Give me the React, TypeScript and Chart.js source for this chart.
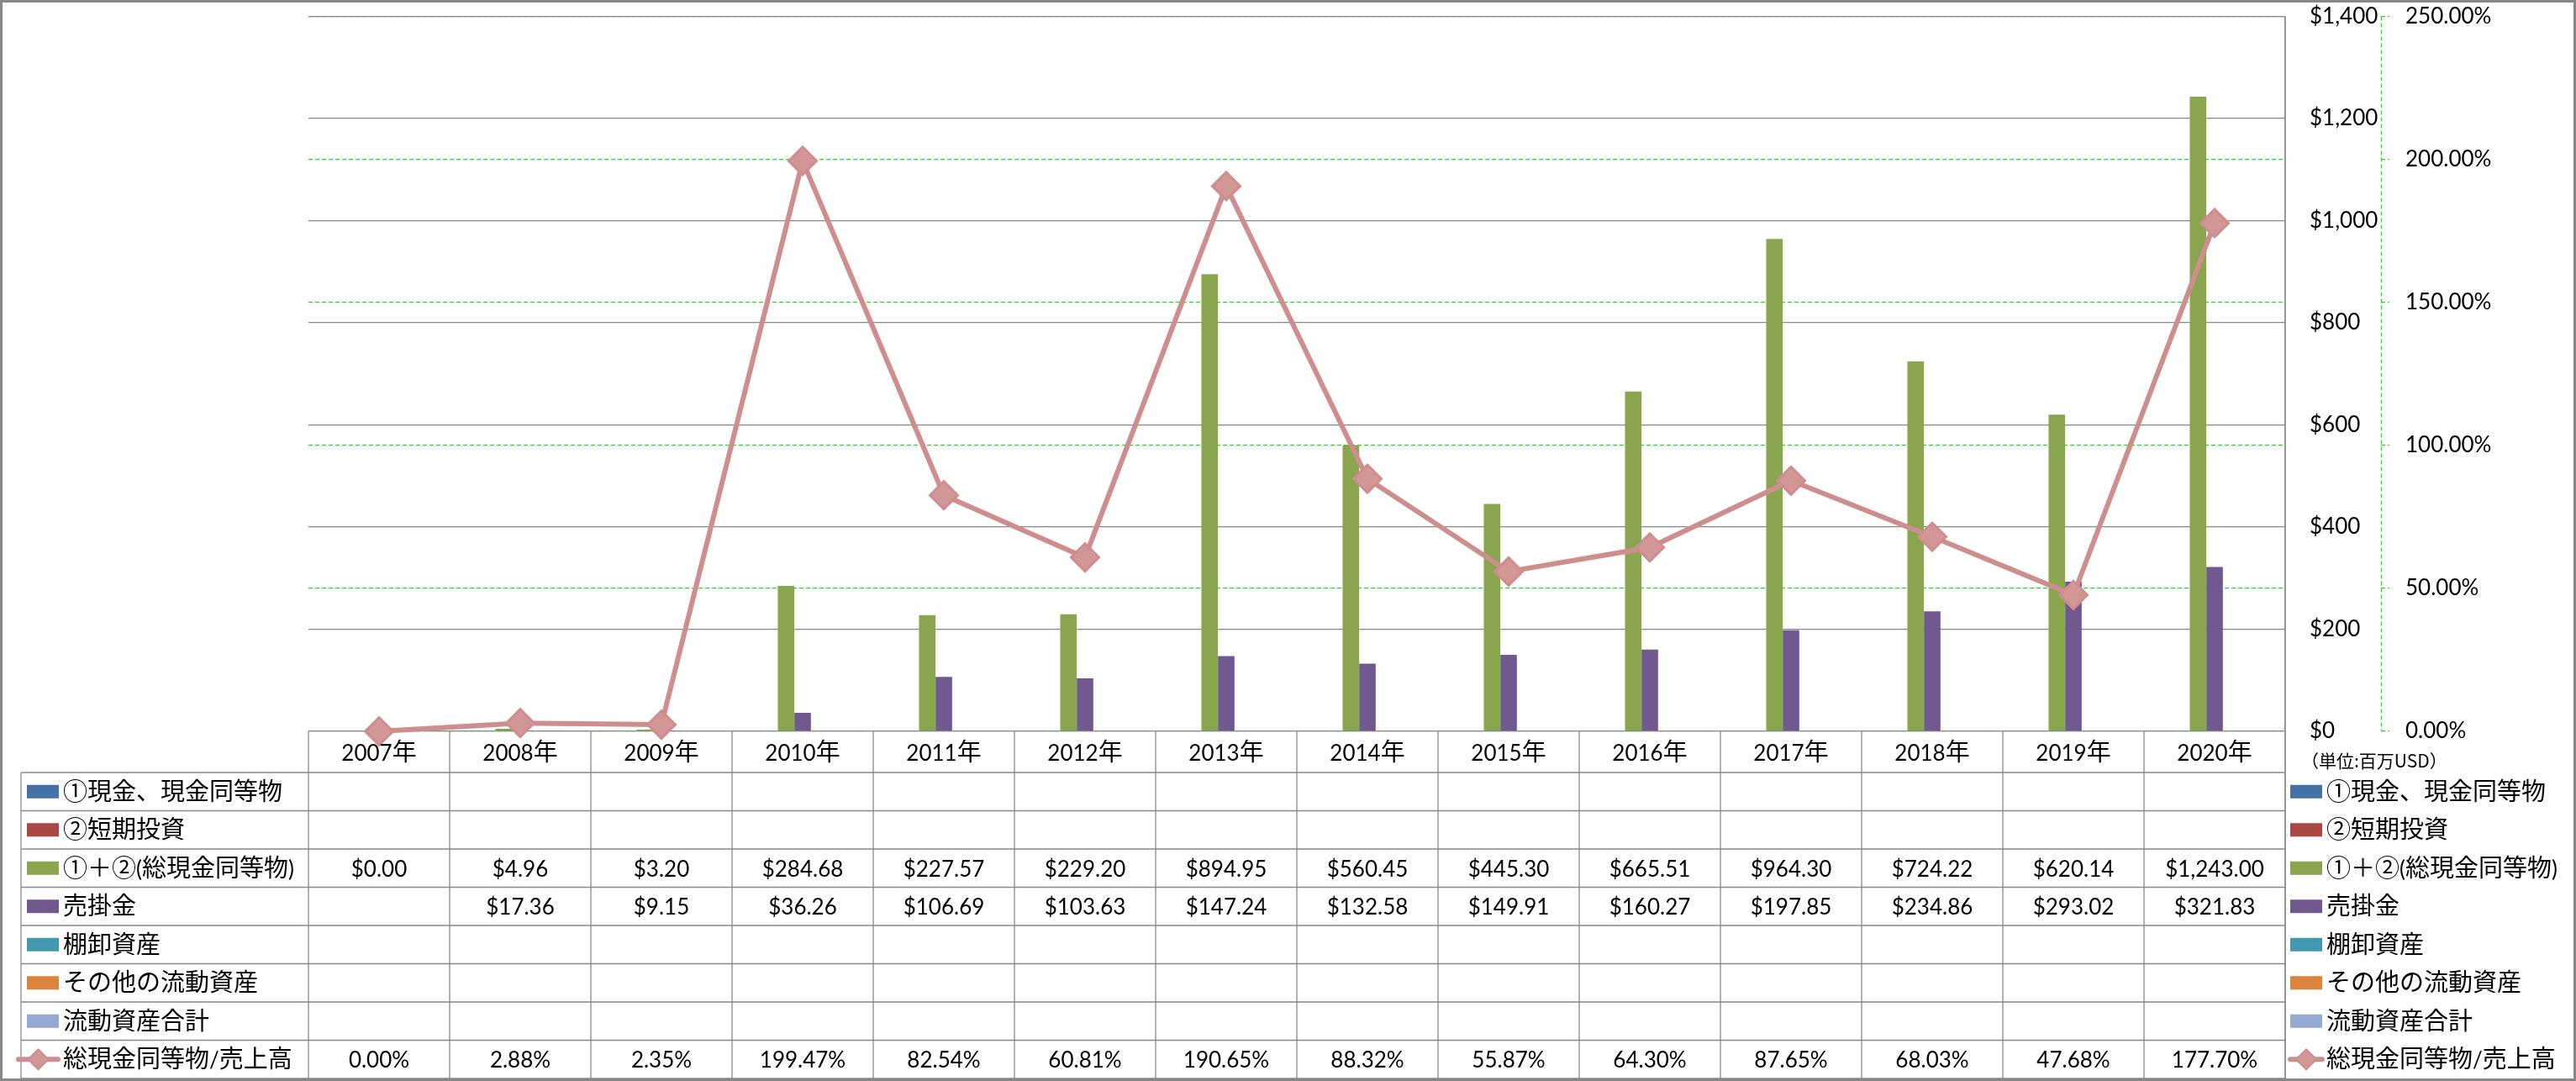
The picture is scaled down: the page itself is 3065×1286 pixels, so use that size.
import React, { useEffect, useRef } from "react";
import { Chart, registerables } from "chart.js";

Chart.register(...registerables);

// ---------------- data ----------------
const years = ["2007年", "2008年", "2009年", "2010年", "2011年", "2012年", "2013年", "2014年", "2015年", "2016年", "2017年", "2018年", "2019年", "2020年"];

const seriesLabels = [
  "①現金、現金同等物",
  "②短期投資",
  "①＋②(総現金同等物)",
  "売掛金",
  "棚卸資産",
  "その他の流動資産",
  "流動資産合計",
  "総現金同等物/売上高",
];

const cashEquivalents: (number | null)[] = [null, null, null, null, null, null, null, null, null, null, null, null, null, null];
const shortTermInvestments: (number | null)[] = [null, null, null, null, null, null, null, null, null, null, null, null, null, null];
const totalCash: (number | null)[] = [0.0, 4.96, 3.2, 284.68, 227.57, 229.2, 894.95, 560.45, 445.3, 665.51, 964.3, 724.22, 620.14, 1243.0];
const receivables: (number | null)[] = [null, 17.36, 9.15, 36.26, 106.69, 103.63, 147.24, 132.58, 149.91, 160.27, 197.85, 234.86, 293.02, 321.83];
const inventory: (number | null)[] = [null, null, null, null, null, null, null, null, null, null, null, null, null, null];
const otherCurrentAssets: (number | null)[] = [null, null, null, null, null, null, null, null, null, null, null, null, null, null];
const totalCurrentAssets: (number | null)[] = [null, null, null, null, null, null, null, null, null, null, null, null, null, null];
const cashToSales: (number | null)[] = [0.0, 2.88, 2.35, 199.47, 82.54, 60.81, 190.65, 88.32, 55.87, 64.3, 87.65, 68.03, 47.68, 177.7];

const leftAxisMax = 1400;
const leftAxisStep = 200;
const rightAxisMax = 250;
const rightAxisStep = 50;
const unitLabel = "（単位:百万USD）";

// ---------------- styles ----------------
const barColors = ["#4572A7", "#AA4643", "#89A54E", "#71588F", "#4198AF", "#DB843D", "#93A9CF"];
const LINE_COLOR = "#CF8E8E";
const MARKER_FILL = "#D39696";
const GRID = "#878787";
const GREEN = "#1EE01E";
const LAT = "Lato, 'DejaVu Sans', sans-serif";
const JP = "'Noto Sans CJK JP', sans-serif";
const LAT_SIZE = 26;
const JP_SIZE = 29;

const W = 3065;
const H = 1286;
const HEADER_H = 49;
const ROW_H = 45.5;

function isLatin(ch: string) {
  return ch.charCodeAt(0) < 0x2000;
}

function drawMixed(ctx: CanvasRenderingContext2D, text: string, x: number, yCenter: number, align: "left" | "center", latSize = LAT_SIZE, jpSize = JP_SIZE) {
  const runs: { t: string; latin: boolean }[] = [];
  for (const ch of text) {
    const l = isLatin(ch);
    if (runs.length && runs[runs.length - 1].latin === l) runs[runs.length - 1].t += ch;
    else runs.push({ t: ch, latin: l });
  }
  const widths = runs.map((r) => {
    ctx.font = r.latin ? `${latSize}px ${LAT}` : `${jpSize}px ${JP}`;
    return ctx.measureText(r.t).width;
  });
  const total = widths.reduce((a, b) => a + b, 0);
  let cx = align === "center" ? x - total / 2 : x;
  ctx.textAlign = "left";
  ctx.textBaseline = "alphabetic";
  ctx.fillStyle = "#000";
  runs.forEach((r, i) => {
    ctx.font = r.latin ? `${latSize}px ${LAT}` : `${jpSize}px ${JP}`;
    ctx.fillText(r.t, cx, yCenter + 10);
    cx += widths[i];
  });
}

function line(ctx: CanvasRenderingContext2D, x1: number, y1: number, x2: number, y2: number) {
  ctx.beginPath();
  ctx.moveTo(x1, y1);
  ctx.lineTo(x2, y2);
  ctx.stroke();
}

function drawLineKey(ctx: CanvasRenderingContext2D, x1: number, x2: number, cy: number) {
  ctx.save();
  ctx.strokeStyle = LINE_COLOR;
  ctx.lineWidth = 6;
  ctx.lineCap = "round";
  line(ctx, x1 + 3, cy, x2 - 3, cy);
  const cx = (x1 + x2) / 2;
  const r = 12;
  ctx.beginPath();
  ctx.moveTo(cx - r, cy);
  ctx.lineTo(cx, cy - r);
  ctx.lineTo(cx + r, cy);
  ctx.lineTo(cx, cy + r);
  ctx.closePath();
  ctx.fillStyle = MARKER_FILL;
  ctx.fill();
  ctx.lineWidth = 2;
  ctx.lineJoin = "round";
  ctx.stroke();
  ctx.restore();
}

const money = (v: number | null) =>
  v == null ? "" : "$" + v.toLocaleString("en-US", { minimumFractionDigits: 2, maximumFractionDigits: 2 });
const pct = (v: number | null) => (v == null ? "" : v.toFixed(2) + "%");

const tablePlugin = {
  id: "dataTable",
  afterDraw(chart: any) {
    const ctx: CanvasRenderingContext2D = chart.ctx;
    const area = chart.chartArea;
    const xs = chart.scales.x;
    const n = years.length;
    const colW = (area.right - area.left) / n;
    const top = area.bottom;
    const rowsTop = top + HEADER_H;
    const bottom = rowsTop + ROW_H * 8;
    const tableLeft = 25;

    ctx.save();
    // green dashed secondary axis line
    const y1 = chart.scales.y1;
    ctx.strokeStyle = GREEN;
    ctx.lineWidth = 1.3;
    ctx.setLineDash([5, 3]);
    line(ctx, Math.round(y1.left) + 0.5, area.top, Math.round(y1.left) + 0.5, area.bottom);
    ctx.setLineDash([]);

    // table grid
    ctx.strokeStyle = GRID;
    ctx.lineWidth = 1.3;
    for (let i = 0; i <= n; i++) {
      const xx = area.left + i * colW;
      line(ctx, xx, top, xx, bottom);
    }
    line(ctx, area.right, area.top, area.right, bottom);
    for (let r = 0; r <= 8; r++) {
      const yy = rowsTop + r * ROW_H;
      line(ctx, tableLeft, yy, area.right, yy);
    }
    line(ctx, tableLeft, rowsTop, tableLeft, bottom);

    // header
    years.forEach((y, i) => drawMixed(ctx, y, xs.getPixelForValue(i), top + HEADER_H / 2, "center"));

    // rows
    const rowData = [cashEquivalents, shortTermInvestments, totalCash, receivables, inventory, otherCurrentAssets, totalCurrentAssets, cashToSales];
    rowData.forEach((arr, r) => {
      const cy = rowsTop + r * ROW_H + ROW_H / 2;
      if (r < 7) {
        ctx.fillStyle = barColors[r];
        ctx.fillRect(32, cy - 8, 38, 16);
      } else {
        drawLineKey(ctx, 19, 72, cy);
      }
      drawMixed(ctx, seriesLabels[r], 75, cy, "left");
      arr.forEach((v, i) => {
        const s = r === 7 ? pct(v) : money(v);
        if (s) drawMixed(ctx, s, xs.getPixelForValue(i), cy, "center");
      });

      // right-side legend
      if (r < 7) {
        ctx.fillStyle = barColors[r];
        ctx.fillRect(2725, cy - 8, 38, 16);
      } else {
        drawLineKey(ctx, 2722, 2766, cy);
      }
      drawMixed(ctx, seriesLabels[r], 2768, cy, "left");
    });

    // unit label
    ctx.font = `21px ${JP}`;
    ctx.fillStyle = "#000";
    ctx.textAlign = "left";
    ctx.textBaseline = "middle";
    ctx.fillText(unitLabel, 2738, 905);

    // outer border
    ctx.strokeStyle = GRID;
    ctx.lineWidth = 3;
    ctx.strokeRect(1.5, 1.5, W - 3, H - 3);
    ctx.restore();
  },
};

export default function App() {
  const ref = useRef<HTMLCanvasElement>(null);
  useEffect(() => {
    if (!ref.current) return;
    const barSeries = [cashEquivalents, shortTermInvestments, totalCash, receivables, inventory, otherCurrentAssets, totalCurrentAssets];
    const datasets: any[] = barSeries.map((d, i) => ({
      type: "bar",
      label: seriesLabels[i],
      data: d,
      backgroundColor: barColors[i],
      borderWidth: 0,
      yAxisID: "y",
      order: 1,
      categoryPercentage: 0.82,
      barPercentage: 1.0,
    }));
    datasets.push({
      type: "line",
      label: seriesLabels[7],
      data: cashToSales,
      yAxisID: "y1",
      order: 0,
      borderColor: LINE_COLOR,
      borderWidth: 6,
      tension: 0,
      pointStyle: "rectRot",
      pointRadius: 16.5,
      pointBackgroundColor: MARKER_FILL,
      pointBorderColor: LINE_COLOR,
      pointBorderWidth: 3,
      clip: false,
    });

    const chart = new Chart(ref.current, {
      type: "bar",
      data: { labels: years, datasets },
      plugins: [tablePlugin],
      options: {
        responsive: false,
        animation: false,
        devicePixelRatio: 1,
        layout: { padding: { left: 367, top: 19, right: 0, bottom: H - 870 } },
        plugins: { legend: { display: false }, tooltip: { enabled: false } },
        scales: {
          x: { display: false, offset: true },
          y: {
            position: "right",
            weight: 0,
            min: 0,
            max: leftAxisMax,
            ticks: {
              stepSize: leftAxisStep,
              padding: 29,
              color: "#000",
              font: { family: LAT, size: LAT_SIZE },
              callback: (v: any) => "$" + Number(v).toLocaleString("en-US"),
            },
            grid: { color: GRID, lineWidth: 1.3, drawTicks: false, z: -1 },
            border: { display: true, color: GRID, width: 1.3 },
            afterFit: (s: any) => {
              s.width = 114;
              s.paddingTop = 0;
              s.paddingBottom = 0;
            },
          },
          y1: {
            position: "right",
            weight: 1,
            min: 0,
            max: rightAxisMax,
            ticks: {
              stepSize: rightAxisStep,
              padding: 19,
              color: "#000",
              font: { family: LAT, size: LAT_SIZE },
              callback: (v: any) => Number(v).toFixed(2) + "%",
            },
            grid: {
              color: GREEN,
              lineWidth: 1.3,
              drawTicks: true,
              tickLength: 10,
              tickColor: GREEN,
              tickWidth: 1.3,
              tickBorderDash: [5, 3],
              z: -2,
            },
            border: { display: false, dash: [5, 3] },
            afterFit: (s: any) => {
              s.width = W - 2833;
              s.paddingTop = 0;
              s.paddingBottom = 0;
            },
          },
        },
      } as any,
    } as any);
    return () => chart.destroy();
  }, []);

  return (
    <div style={{ position: "fixed", left: 0, top: 0, width: W, height: H, background: "#fff" }}>
      <canvas ref={ref} width={W} height={H} style={{ display: "block", width: W, height: H }} />
    </div>
  );
}
